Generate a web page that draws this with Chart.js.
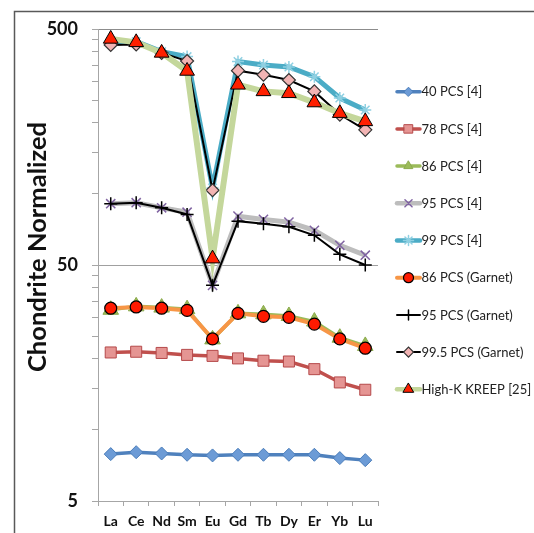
<!DOCTYPE html>
<html><head><meta charset="utf-8">
<script src="https://cdn.jsdelivr.net/npm/chart.js@4/dist/chart.umd.min.js"></script>
<style>html,body{margin:0;padding:0;background:#fff;}#wrap{width:534px;height:533px;}</style>
</head><body><div id="wrap"><canvas id="c" width="534" height="533"></canvas></div>
<script>
const categories = ['La','Ce','Nd','Sm','Eu','Gd','Tb','Dy','Er','Yb','Lu'];
const pcs40  = [7.9, 8.05, 7.95, 7.85, 7.8, 7.85, 7.85, 7.85, 7.85, 7.6, 7.45];
const pcs78  = [21.3, 21.45, 21.2, 20.8, 20.6, 20.1, 19.65, 19.5, 18.1, 15.9, 14.8];
const pcs86  = [32.3, 33.4, 33, 32.5, 24.2, 31.2, 30.9, 30.4, 28.8, 24.6, 22.7];
const pcs95  = [90.9, 91.8, 87.4, 83.7, 41, 80.5, 78, 76, 70.1, 60.6, 55];
const pcs99  = [435, 442, 401, 382, 106, 364, 352, 345, 314, 255, 227];
const pcs86g = [32.8, 33.2, 32.8, 32.1, 24.3, 31.2, 30.3, 30.0, 28.1, 24.3, 22.2];
const pcs95g = [90.9, 91.8, 87.4, 81.9, 41, 76.7, 74.8, 72.6, 66.8, 55.5, 50];
const pcs995g= [428, 430, 396, 366, 103.7, 333, 320, 304, 272, 217, 187];
const kreep  = [454, 439, 396, 332, 53.2, 290, 272, 267, 244, 220, 203];
const seriesNames = ['40 PCS [4]','78 PCS [4]','86 PCS [4]','95 PCS [4]','99 PCS [4]','86 PCS (Garnet)','95 PCS (Garnet)','99.5 PCS (Garnet)','High-K KREEP [25]'];
const yTickValues = [5,10,15,20,25,30,35,40,45,50,100,150,200,250,300,350,400,450,500];
const yTickLabels = [5,50,500];
const yTitle = 'Chondrite Normalized';

const styles = [
  {line:'#4F81BD', w:3.5, ps:'rectRot', r:6.5, fill:'#6C9BD6', bc:'#4A7DBA', bw:1, lr:4.5},
  {line:'#C0504D', w:3.5, ps:'rect', r:7.8, fill:'#E59593', bc:'#B5494A', bw:1, lr:6},
  {line:'#9BBB59', w:3.5, ps:'triangle', r:9, fill:'#9BBB59', bc:'#8BAA4C', bw:1, lr:5},
  {line:'#BDBDBD', w:5, ps:'crossRot', r:6.5, fill:'#8064A2', bc:'#8064A2', bw:1.5, lr:5},
  {line:'#4BACC6', w:5, ps:'star', r:6, fill:'#8FD0E2', bc:'#8FD0E2', bw:1.5, lr:5},
  {line:'#F79646', w:4, ps:'circle', r:6, fill:'#FF1A00', bc:'#000', bw:1.2, lr:5},
  {line:'#000000', w:2, ps:'cross', r:6.5, fill:'#000', bc:'#000', bw:1.5, lr:5},
  {line:'#000000', w:2, ps:'rectRot', r:6.5, fill:'#F2B4B4', bc:'#333', bw:1.2, lr:5},
  {line:'#C4D79B', w:6, ps:'triangle', r:8.5, fill:'#FF2000', bc:'#000', bw:1, lr:6}
];
const allData = [pcs40, pcs78, pcs86, pcs95, pcs99, pcs86g, pcs95g, pcs995g, kreep];
const FONT = 'Lato, "Open Sans", sans-serif';

const datasets = allData.map((d,i)=>({
  label: seriesNames[i], data: d,
  borderColor: styles[i].line, borderWidth: styles[i].w,
  pointStyle: styles[i].ps, pointRadius: styles[i].r,
  pointBackgroundColor: styles[i].fill, pointBorderColor: styles[i].bc,
  pointBorderWidth: styles[i].bw, tension: 0, fill: false,
  order: allData.length - i
}));

const extras = {
  id:'extras',
  beforeDraw(chart){
    const c = chart.ctx; c.save();
    c.fillStyle='#fff'; c.fillRect(0,0,chart.width,chart.height);
    c.strokeStyle='#595959'; c.lineWidth=1.5;
    c.beginPath(); c.moveTo(14.5,chart.height+5); c.lineTo(14.5,11.5); c.lineTo(chart.width+5,11.5); c.stroke();
    c.restore();
  },
  afterDraw(chart){
    const c = chart.ctx; c.save();
    c.translate(38,247); c.rotate(-Math.PI/2);
    c.font = 'bold 25.5px ' + FONT; c.fillStyle='#111'; c.textAlign='center'; c.textBaseline='middle';
    c.fillText(yTitle,0,0);
    c.restore();
    c.save();
    chart.data.datasets.forEach((ds,i)=>{
      const y = 91.7 + 37.2*i, s = styles[i];
      c.strokeStyle = s.line; c.lineWidth = Math.min(s.w,4.5); c.lineCap='round';
      c.beginPath(); c.moveTo(397,y); c.lineTo(420,y); c.stroke();
      c.fillStyle = s.fill; c.strokeStyle = s.bc; c.lineWidth = s.bw;
      Chart.helpers.drawPoint(c,{pointStyle:s.ps, radius:s.lr, rotation:0, borderWidth:s.bw},408.5,y);
      c.fillStyle='#222'; c.font='13px ' + FONT; c.textAlign='left'; c.textBaseline='middle';
      c.fillText(ds.label, 421.5, y+0.5);
    });
    c.restore();
  }
};

new Chart(document.getElementById('c'), {
  type:'line',
  data:{labels:categories, datasets},
  options:{
    responsive:false, animation:false, devicePixelRatio:1,
    layout:{padding:{left:0,top:29,right:156,bottom:0}},
    plugins:{legend:{display:false}, tooltip:{enabled:false}},
    scales:{
      x:{type:'category', offset:true,
        grid:{offset:true, drawOnChartArea:false, drawTicks:true, tickLength:5, tickColor:'#A6A6A6'},
        border:{color:'#A6A6A6', width:1},
        ticks:{autoSkip:false, maxRotation:0, color:'#111', padding:7, font:{family:FONT, weight:'bold', size:14}},
        afterFit:s=>{s.height=32;}
      },
      y:{type:'logarithmic', min:5, max:500,
        afterBuildTicks:s=>{s.ticks = yTickValues.map(v=>({value:v}));},
        grid:{color:ctx=> (ctx.tick && (ctx.tick.value===50||ctx.tick.value===500)) ? (ctx.tick.value===500?'#8C8C8C':'#A0A0A0') : 'rgba(0,0,0,0)',
              tickColor:'#A6A6A6', tickLength:6, lineWidth:1},
        border:{color:'#A6A6A6', width:1},
        ticks:{autoSkip:false, color:'#111', padding:14, font:{family:FONT, weight:'bold', size:18},
               callback:v=> yTickLabels.includes(v) ? String(v) : ''},
        afterFit:s=>{s.width=98;}
      }
    }
  },
  plugins:[extras]
});
</script></body></html>
